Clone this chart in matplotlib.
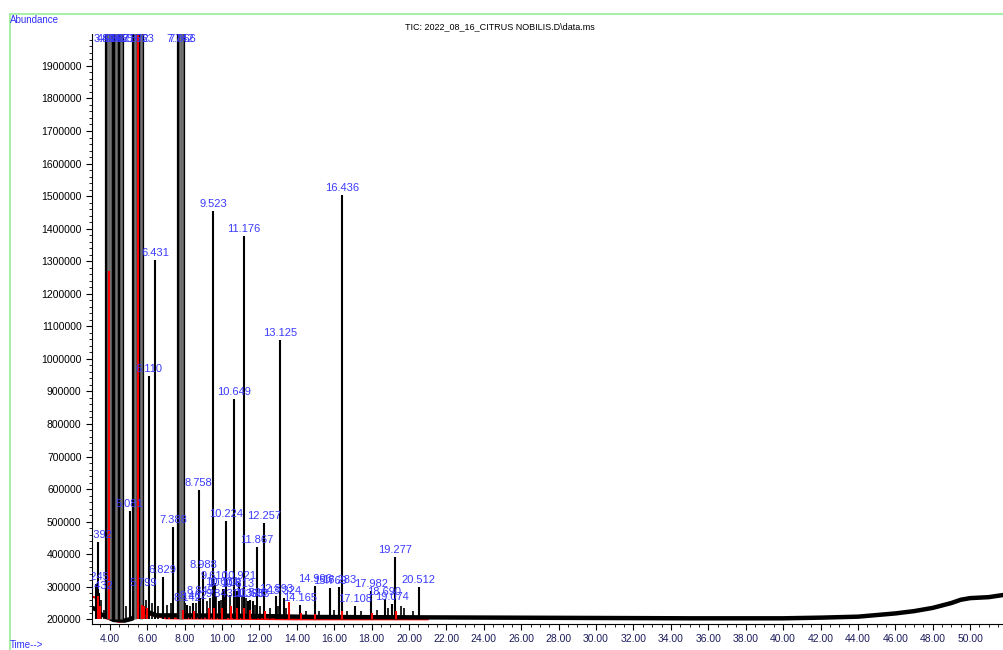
import numpy as np
import matplotlib.pyplot as plt
from matplotlib.ticker import MultipleLocator, StrMethodFormatter
from matplotlib.patches import Rectangle

plt.rcParams['font.family'] = ['Liberation Sans', 'DejaVu Sans']

# labelled TIC peaks (retention time in min, abundance); the big ones go off the top
peak_rt = [3.245, 3.392, 3.432, 3.884, 4.036, 4.327, 4.621, 5.081, 5.372, 5.663,
           5.799, 6.110, 6.431, 6.829, 7.388, 7.742, 7.856, 8.142, 8.462, 8.758,
           8.845, 8.988, 9.523, 9.610, 9.843, 10.031, 10.108, 10.224, 10.649, 10.813,
           10.921, 11.176, 11.398, 11.520, 11.633, 11.867, 12.257, 12.893, 13.125, 13.324,
           14.165, 14.996, 15.769, 16.283, 16.436, 17.108, 17.982, 18.690, 19.074, 19.277,
           20.512]
peak_abund = [308000, 437000, 282000, 6000000, 6000000, 5000000, 5000000, 533000, 4000000, 3000000,
              290000, 947000, 1303000, 330000, 484000, 6000000, 6000000, 245000, 250000, 598000,
              265000, 344000, 1453000, 312000, 255000, 292000, 290000, 503000, 877000, 288000,
              312000, 1376000, 255000, 258000, 255000, 421000, 496000, 272000, 1057000, 265000,
              243000, 303000, 295000, 298000, 1503000, 240000, 287000, 261000, 246000, 390000,
              298000]

# small unlabelled TIC peaks
minor_rt = [3.55, 3.70, 4.85, 5.95, 6.25, 6.60, 7.05, 7.25, 8.05, 8.30, 8.60, 9.20, 9.35,
            9.70, 9.95, 10.45, 10.75, 11.05, 11.30, 11.75, 12.05, 12.55, 13.00, 13.45,
            14.50, 15.20, 16.00, 16.70, 17.45, 18.30, 18.90, 19.55, 19.75, 20.20]
minor_abund = [260000, 230000, 240000, 260000, 250000, 240000, 245000, 250000, 250000, 240000,
               250000, 255000, 265000, 270000, 260000, 275000, 280000, 270000, 265000, 245000,
               240000, 235000, 240000, 235000, 225000, 225000, 230000, 225000, 225000, 230000,
               235000, 240000, 235000, 225000]

# TIC baseline
base_rt = [3.05, 3.3, 3.5, 3.8, 4.2, 4.8, 5.2, 5.6, 5.9, 6.5, 8, 10, 12, 15, 20, 25, 30,
           35, 40, 42, 44, 46, 47, 48, 49, 49.5, 50, 51, 51.81]
base_abund = [235000, 230000, 215000, 210000, 198000, 196000, 202000, 225000, 225000, 212000,
              212000, 211000, 210000, 207000, 206000, 205000, 204000, 203000, 203000, 205000,
              208000, 218000, 225000, 235000, 250000, 260000, 265000, 268000, 275000]

# red overlay trace
red_peak_rt = [3.35, 3.50, 3.96, 5.52, 5.75, 5.85, 6.00, 7.90, 8.50, 9.30, 9.60, 10.00,
               10.50, 10.80, 11.20, 11.50, 12.30, 13.60, 14.20, 15.00, 16.40, 18.00, 19.30]
red_peak_abund = [270000, 240000, 1270000, 3000000, 245000, 240000, 235000, 230000, 225000,
                  235000, 235000, 235000, 240000, 235000, 235000, 230000, 225000, 253000,
                  220000, 215000, 225000, 220000, 225000]
red_base_rt = [3.05, 3.3, 3.5, 3.8, 4.5, 5.0, 5.6, 6.0, 7.0, 10.0, 14.0, 20.0, 21.0]
red_base_abund = [270000, 265000, 222000, 203000, 192000, 196000, 218000, 216000, 203000,
                  202000, 200000, 200000, 200000]

fig = plt.figure(figsize=(10.04, 6.5), dpi=100)
ax = fig.add_axes([0.0916, 0.04, 0.9084, 0.9077])
ax.set_xlim(3.05, 51.81)
ax.set_ylim(185500, 1998000)
ymax = ax.get_ylim()[1]

peak_rt = np.array(peak_rt)
peak_abund = np.array(peak_abund)
tall = peak_abund > ymax

ax.plot(red_base_rt, red_base_abund, color='red', lw=1.5, zorder=1.5)
ax.plot(base_rt, base_abund, color='black', lw=3.2, zorder=2)
ax.vlines(minor_rt, 200000, minor_abund, colors='black', lw=1.2, zorder=2)
ax.vlines(peak_rt[~tall], 200000, peak_abund[~tall], colors='black', lw=1.5, zorder=2)
ax.vlines(peak_rt[tall], 200000, peak_abund[tall], colors='black', lw=4.5, zorder=2)
ax.vlines(peak_rt[tall], 200000, peak_abund[tall], colors='0.45', lw=1.8, zorder=2)

ax.vlines(red_peak_rt, 200000, red_peak_abund, colors='red', lw=1.5, zorder=3)

lab_color = '#3a3aff'
for t, h in zip(peak_rt, peak_abund):
    if h > ymax:
        ax.text(t, ymax, f'{t:.3f}', ha='center', va='top', color=lab_color,
                fontsize=8, clip_on=True, zorder=5)
    else:
        ax.annotate(f'{t:.3f}', (t, h), xytext=(0, 1.5), textcoords='offset points',
                    ha='center', va='bottom', color=lab_color, fontsize=8,
                    clip_on=True, zorder=5)

ax.xaxis.set_major_locator(MultipleLocator(2))
ax.xaxis.set_minor_locator(MultipleLocator(0.5))
ax.xaxis.set_major_formatter(StrMethodFormatter('{x:.2f}'))
ax.yaxis.set_major_locator(MultipleLocator(100000))
ax.yaxis.set_minor_locator(MultipleLocator(20000))
ax.yaxis.set_major_formatter(StrMethodFormatter('{x:.0f}'))
ax.tick_params(which='major', direction='out', length=4, width=0.8, labelsize=7.5)
ax.tick_params(which='minor', direction='out', length=2, width=0.6)
ax.tick_params(axis='x', labelcolor='#1c1c5c')
for s in ['top', 'right']:
    ax.spines[s].set_visible(False)

fig.add_artist(Rectangle((10 / 1004, -0.05), 1.2, 0.9785 + 0.05, transform=fig.transFigure,
                         fill=False, ec='#a8f0a8', lw=1.5))
fig.text(10 / 1004, 1 - 20 / 650, 'Abundance', color='#3030ff', fontsize=7, va='center')
fig.text(10 / 1004, 1 - 645 / 650, 'Time-->', color='#3030ff', fontsize=7, va='center')
fig.text(500 / 1004, 1 - 27 / 650, 'TIC: 2022_08_16_CITRUS NOBILIS.D\\data.ms',
         ha='center', va='center', fontsize=6.5)

fig.savefig('out.png', dpi=100)
